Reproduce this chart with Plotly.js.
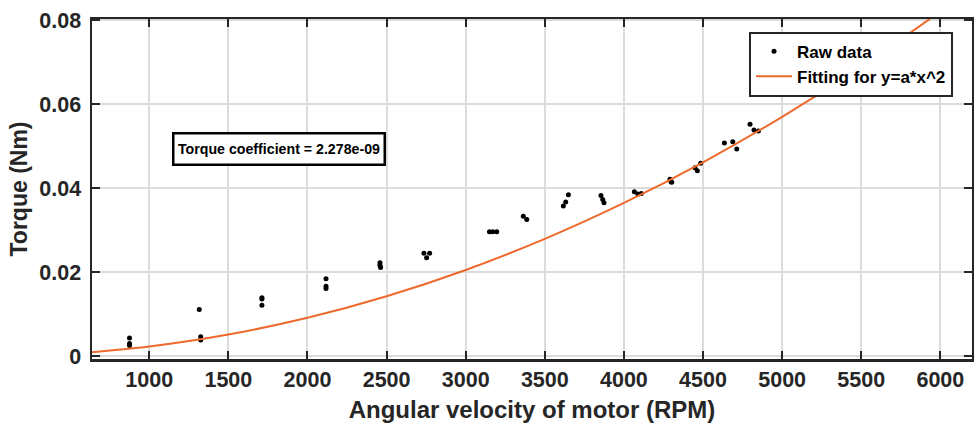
<!DOCTYPE html>
<html>
<head>
<meta charset="utf-8">
<script src="https://cdn.plot.ly/plotly-3.0.1.min.js"></script>
<style>html,body{margin:0;padding:0;background:#fff;}#chart{width:974px;height:427px;}</style>
</head>
<body>
<div id="chart"></div>
<script>
// Raw measurements (RPM, Nm)
var rawRPM = [875, 875, 875, 1316, 1325, 1325, 1712, 1712, 1712, 2117, 2117, 2117,
  2458, 2458, 2462, 2736, 2753, 2772, 3150, 3171, 3196, 3364, 3386, 3617, 3632, 3649,
  3855, 3866, 3874, 4066, 4088, 4110, 4291, 4298, 4302, 4449, 4464, 4485, 4635, 4688,
  4713, 4797, 4822, 4850];
var rawTorque = [0.0043, 0.0030, 0.0025, 0.0111, 0.0046, 0.0038, 0.0139, 0.0136, 0.0121,
  0.0184, 0.0166, 0.0161, 0.0222, 0.0216, 0.0211, 0.0245, 0.0234, 0.0245, 0.0296, 0.0296,
  0.0296, 0.0333, 0.0325, 0.0357, 0.0367, 0.0384, 0.0382, 0.0373, 0.0365, 0.0391, 0.0386,
  0.0387, 0.0421, 0.0415, 0.0414, 0.0448, 0.0441, 0.0459, 0.0507, 0.0510, 0.0493, 0.0552,
  0.0538, 0.0536];

// Fitted curve y = a*x^2
var fitRPM = [625, 1000, 1500, 2000, 2500, 3000, 3500, 4000, 4500, 5000, 5500, 6000];
var fitTorque = [0.00089, 0.00228, 0.00513, 0.00911, 0.01424, 0.02050, 0.02790, 0.03645,
  0.04613, 0.05695, 0.06891, 0.08201];

var xTicks = [1000, 1500, 2000, 2500, 3000, 3500, 4000, 4500, 5000, 5500, 6000];
var yTicks = [0, 0.02, 0.04, 0.06, 0.08];
var yTickText = ['0', '0.02', '0.04', '0.06', '0.08'];
var annotationText = 'Torque coefficient = 2.278e-09';

var ink = '#262626';
var fam = 'Liberation Sans, Arial, Helvetica, sans-serif';

var traces = [
  {x: rawRPM, y: rawTorque, type: 'scatter', mode: 'markers', name: 'Raw data',
   marker: {color: '#000000', size: 5}},
  {x: fitRPM, y: fitTorque, type: 'scatter', mode: 'lines', name: 'Fitting for y=a*x^2',
   line: {color: '#EE6A2C', width: 2, shape: 'spline', smoothing: 0.6}}
];

var axisCommon = {
  showline: true, linecolor: ink, linewidth: 2.5, mirror: 'ticks',
  ticks: 'inside', ticklen: 8, tickwidth: 2, tickcolor: ink,
  showgrid: true, gridcolor: '#dcdcdc', gridwidth: 2, zeroline: false,
  tickfont: {family: fam, size: 21.5, color: ink, weight: 'bold'}
};

var layout = {
  width: 974, height: 427,
  margin: {l: 92, r: 2, t: 19, b: 68},
  paper_bgcolor: '#ffffff', plot_bgcolor: '#ffffff',
  showlegend: true,
  xaxis: Object.assign({}, axisCommon, {
    range: [638, 6200], tickvals: xTicks, ticktext: xTicks.map(String),
    title: {text: 'Angular velocity of motor (RPM)', standoff: 10,
            font: {family: fam, size: 24, color: ink, weight: 'bold'}}
  }),
  yaxis: Object.assign({}, axisCommon, {
    range: [-0.0007, 0.08024], tickvals: yTicks, ticktext: yTickText,
    ticklabelstandoff: 4,
    title: {text: 'Torque (Nm)', standoff: 6,
            font: {family: fam, size: 23, color: ink, weight: 'bold'}}
  }),
  legend: {x: 0.7466, y: 0.9626, xanchor: 'left', yanchor: 'top',
    bgcolor: '#ffffff', bordercolor: ink, borderwidth: 2, itemwidth: 36,
    font: {family: fam, size: 17, color: '#000000', weight: 'bold'}},
  annotations: [{
    xref: 'paper', yref: 'paper', x: 0.2121, y: 0.6185, xanchor: 'center', yanchor: 'middle',
    text: annotationText, showarrow: false, width: 204, height: 24,
    font: {family: fam, size: 14.2, color: '#000000', weight: 'bold'},
    bgcolor: '#ffffff', bordercolor: '#000000', borderwidth: 2.5, borderpad: 2.5
  }]
};

Plotly.newPlot('chart', traces, layout, {displayModeBar: false, staticPlot: true});
</script>
</body>
</html>
